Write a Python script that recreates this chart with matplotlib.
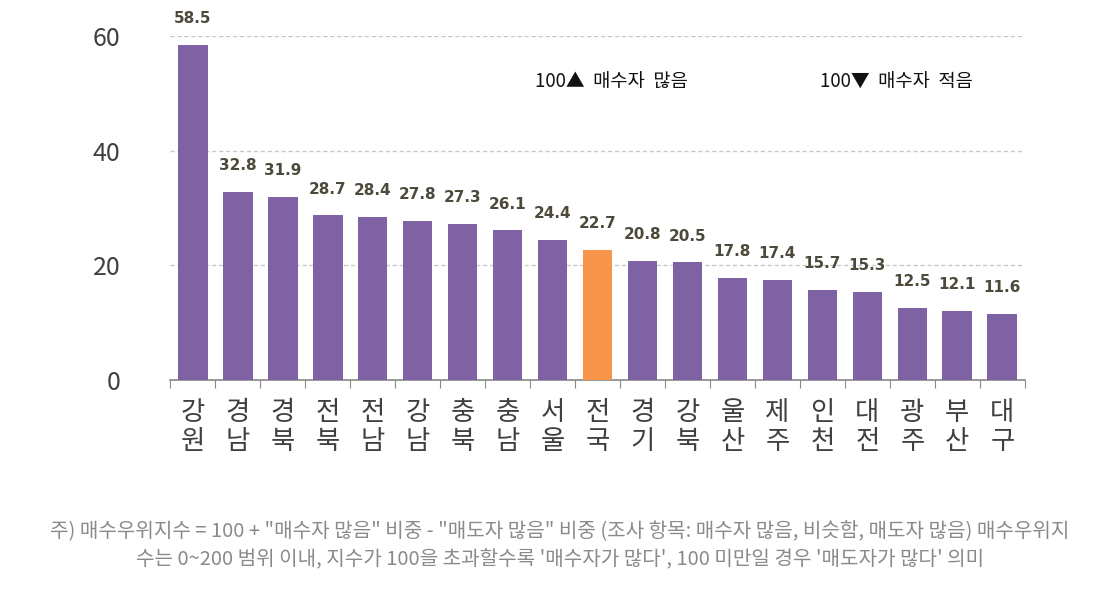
import numpy as np
import matplotlib.pyplot as plt

plt.rcParams['font.family'] = ['Noto Sans CJK KR', 'DejaVu Sans']

regions = ['강\n원', '경\n남', '경\n북', '전\n북', '전\n남', '강\n남', '충\n북', '충\n남', '서\n울',
           '전\n국', '경\n기', '강\n북', '울\n산', '제\n주', '인\n천', '대\n전', '광\n주', '부\n산', '대\n구']
values = [58.5, 32.8, 31.9, 28.7, 28.4, 27.8, 27.3, 26.1, 24.4,
          22.7, 20.8, 20.5, 17.8, 17.4, 15.7, 15.3, 12.5, 12.1, 11.6]
highlight = '전\n국'

purple = '#7f62a3'
orange = '#f7964a'
colors = [orange if r == highlight else purple for r in regions]

fig = plt.figure(figsize=(11.2, 5.91), dpi=100)
ax = fig.add_axes([0.152, 0.357, 0.763, 0.582])

x = np.arange(len(regions))
ax.bar(x, values, width=0.66, color=colors, zorder=3)
for xi, v in zip(x, values):
    ax.annotate(f'{v:.1f}', (xi, v), xytext=(0, 19), textcoords='offset points',
                ha='center', va='center', fontsize=11, color='#4d4a3c',
                fontweight='bold', family=['DejaVu Sans'])

ax.set_xlim(-0.5, len(regions) - 0.5)
ax.set_ylim(0, 60)
ax.set_yticks([0, 20, 40, 60])
for g in [20, 40, 60]:
    ax.axhline(g, color='#c8c8c8', lw=1, ls=(0, (3, 2)), zorder=1)

for s in ['top', 'right', 'left']:
    ax.spines[s].set_visible(False)
ax.spines['bottom'].set_color('#888888')
ax.spines['bottom'].set_linewidth(1.2)

ax.tick_params(axis='y', length=0, labelsize=18, labelcolor='#404040', pad=36)
ax.set_xticks(np.arange(len(regions) + 1) - 0.5)
ax.set_xticklabels([])
ax.tick_params(axis='x', which='major', length=6, color='#888888', direction='out')
ax.set_xticks(x, minor=True)
ax.set_xticklabels(regions, minor=True, fontsize=19, color='#404040', linespacing=1.05)
ax.tick_params(axis='x', which='minor', length=0, pad=14)

ax.text(0.427, 0.866, '100▲  매수자  많음', transform=ax.transAxes, fontsize=13.5,
        color='#111111', ha='left', va='center')
ax.text(0.760, 0.866, '100▼  매수자  적음', transform=ax.transAxes, fontsize=13.5,
        color='#111111', ha='left', va='center')

fig.text(0.5, 0.1, '주) 매수우위지수 = 100 + "매수자 많음" 비중 - "매도자 많음" 비중 (조사 항목: 매수자 많음, 비슷함, 매도자 많음) 매수우위지',
         ha='center', va='center', fontsize=14.5, color='#8a8a8a')
fig.text(0.5, 0.052, "수는 0~200 범위 이내, 지수가 100을 초과할수록 '매수자가 많다', 100 미만일 경우 '매도자가 많다' 의미",
         ha='center', va='center', fontsize=14.5, color='#8a8a8a')

fig.savefig('out.png', dpi=100)
